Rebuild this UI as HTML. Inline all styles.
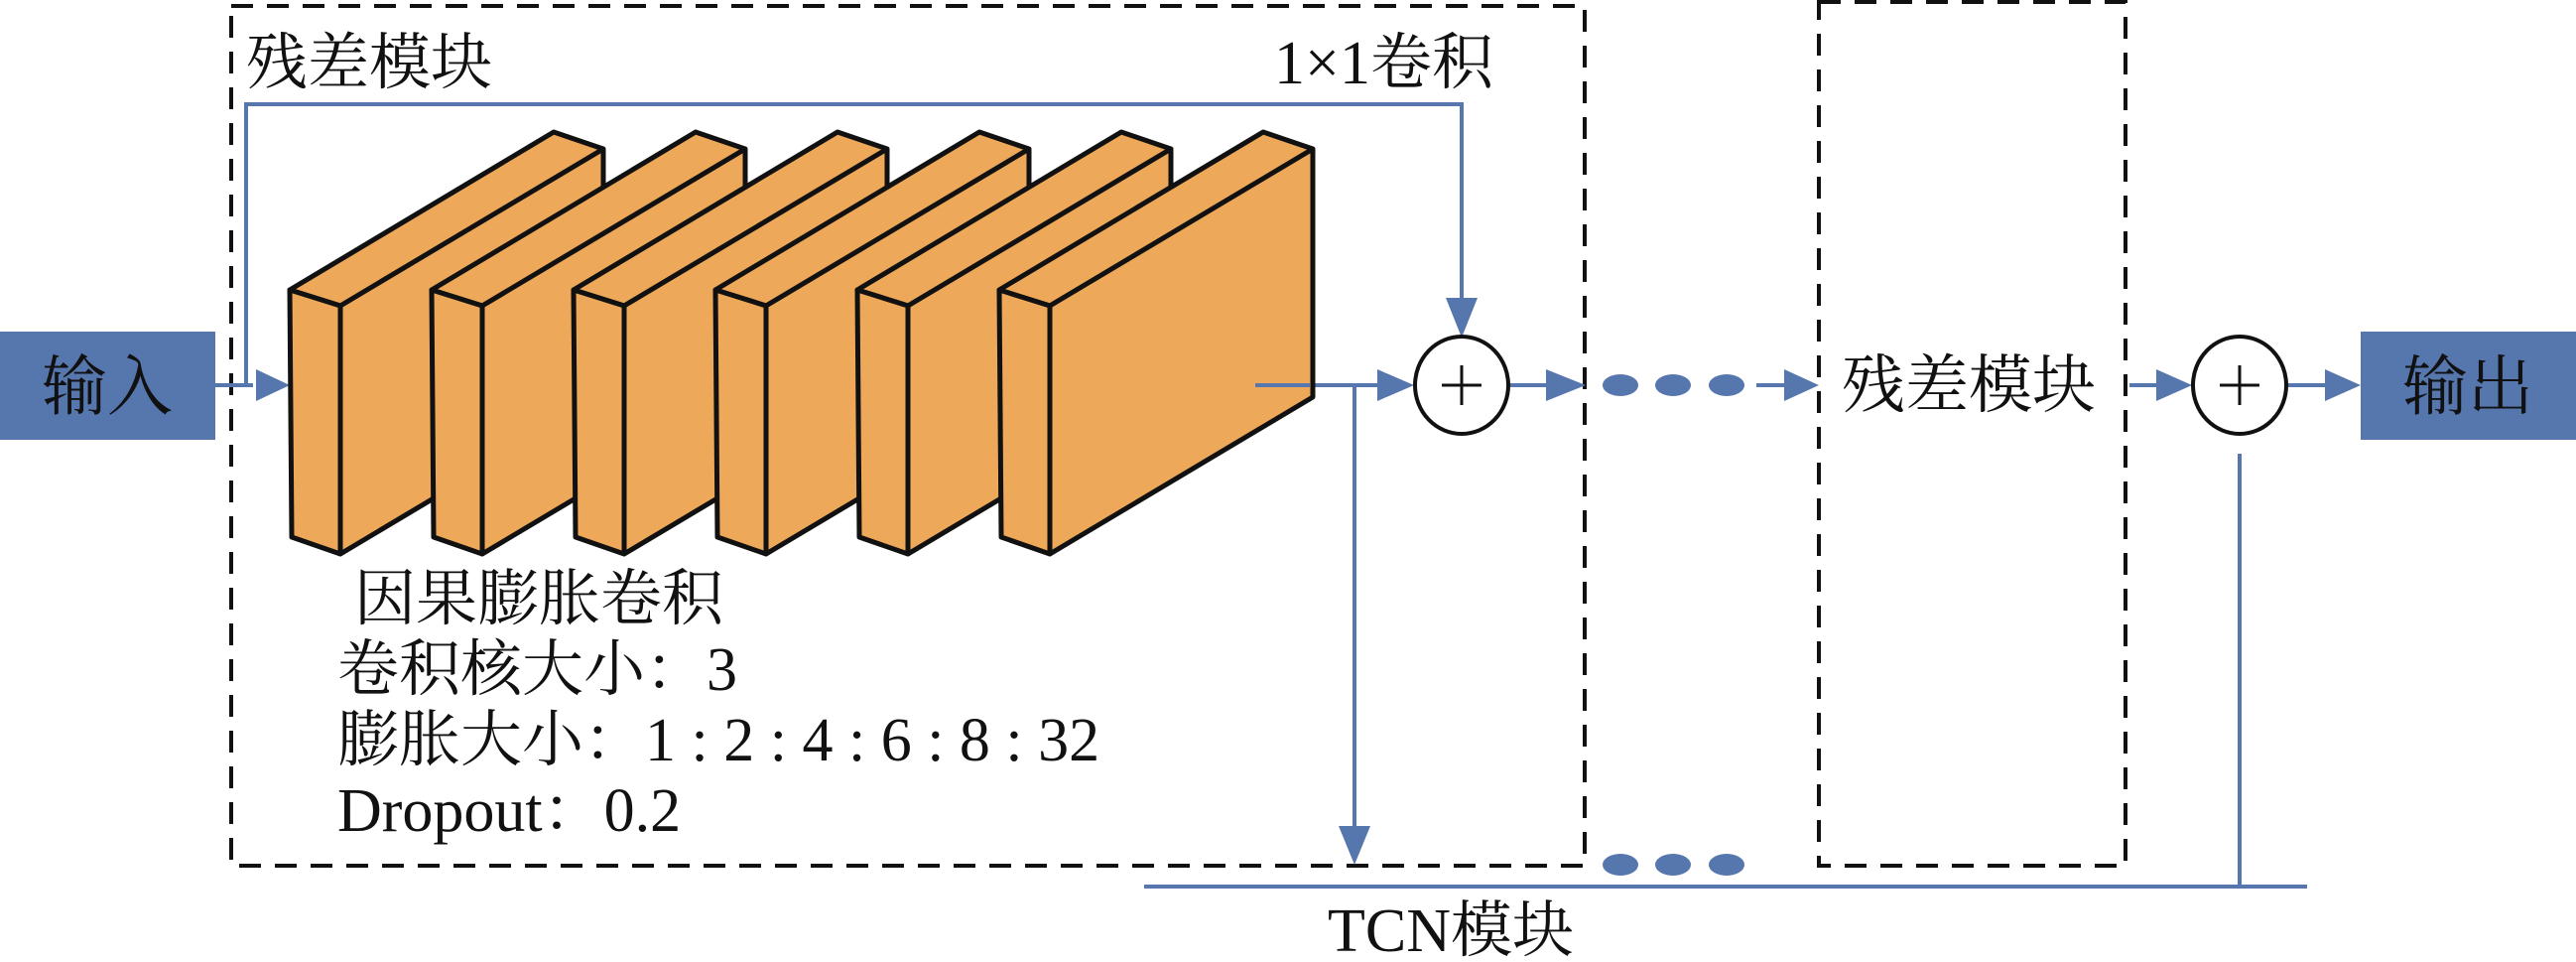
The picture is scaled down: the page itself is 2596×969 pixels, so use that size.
<!DOCTYPE html>
<html><head><meta charset="utf-8"><style>
html,body{margin:0;padding:0;background:#fff;width:2596px;height:969px;overflow:hidden}
text{font-family:"Liberation Serif","Noto Serif CJK SC",serif;fill:#111}
.l{font-family:"Liberation Serif",serif}
</style></head><body>
<svg width="2596" height="969" viewBox="0 0 2596 969" xmlns="http://www.w3.org/2000/svg">
<!-- dashed boxes -->
<rect x="233" y="6" width="1364" height="866" fill="none" stroke="#111" stroke-width="4" stroke-dasharray="22,14"/>
<rect x="1833" y="2" width="309" height="870" fill="none" stroke="#111" stroke-width="4" stroke-dasharray="22,14"/>

<!-- input / output boxes -->
<rect x="0" y="334" width="217" height="109" fill="#5676AE"/>
<text x="108" y="412" font-size="66" text-anchor="middle">输入</text>
<rect x="2379" y="334" width="217" height="109" fill="#5676AE"/>
<text x="2487" y="412" font-size="66" text-anchor="middle">输出</text>

<!-- blue lines -->
<g stroke="#5676AE" stroke-width="4" fill="none">
<polyline points="217,388 255,388"/>
<polyline points="248,388 248,105 1473,105 1473,300"/>
<line x1="1265" y1="388" x2="1390" y2="388"/>
<line x1="1365" y1="388" x2="1365" y2="835"/>
<line x1="1521" y1="388" x2="1560" y2="388"/>
<line x1="1770" y1="388" x2="1800" y2="388"/>
<line x1="2146" y1="388" x2="2175" y2="388"/>
<line x1="2305" y1="388" x2="2345" y2="388"/>
<line x1="1153" y1="893" x2="2325" y2="893"/>
<line x1="2257" y1="457" x2="2257" y2="893"/>
</g>
<g fill="#5676AE">
<polygon points="258,372 292,388 258,404"/>
<polygon points="1388,372 1425,388 1388,404"/>
<polygon points="1457,300 1473,340 1489,300"/>
<polygon points="1558,372 1598,388 1558,404"/>
<polygon points="1798,372 1833,388 1798,404"/>
<polygon points="2173,372 2209,388 2173,404"/>
<polygon points="2343,372 2379,388 2343,404"/>
<polygon points="1349,832 1365,871 1381,832"/>
<ellipse cx="1633" cy="388" rx="18" ry="11"/>
<ellipse cx="1686" cy="388" rx="18" ry="11"/>
<ellipse cx="1740" cy="388" rx="18" ry="11"/>
<ellipse cx="1633" cy="871" rx="18" ry="11"/>
<ellipse cx="1686" cy="871" rx="18" ry="11"/>
<ellipse cx="1740" cy="871" rx="18" ry="11"/>
</g>

<!-- blocks -->
<g stroke="#111" stroke-width="5" stroke-linejoin="round" fill="#EEA85A">
<g><polygon points="292,292 558,133 608,150 608,400 343,558 343,308"/><polygon points="292,292 343,308 343,558 294,541"/><polyline points="343,308 608,150" fill="none"/></g>
<g transform="translate(143,0)"><polygon points="292,292 558,133 608,150 608,400 343,558 343,308"/><polygon points="292,292 343,308 343,558 294,541"/><polyline points="343,308 608,150" fill="none"/></g>
<g transform="translate(286,0)"><polygon points="292,292 558,133 608,150 608,400 343,558 343,308"/><polygon points="292,292 343,308 343,558 294,541"/><polyline points="343,308 608,150" fill="none"/></g>
<g transform="translate(429,0)"><polygon points="292,292 558,133 608,150 608,400 343,558 343,308"/><polygon points="292,292 343,308 343,558 294,541"/><polyline points="343,308 608,150" fill="none"/></g>
<g transform="translate(572,0)"><polygon points="292,292 558,133 608,150 608,400 343,558 343,308"/><polygon points="292,292 343,308 343,558 294,541"/><polyline points="343,308 608,150" fill="none"/></g>
<g transform="translate(715,0)"><polygon points="292,292 558,133 608,150 608,400 343,558 343,308"/><polygon points="292,292 343,308 343,558 294,541"/><polyline points="343,308 608,150" fill="none"/></g>
</g>
<line x1="1265" y1="388" x2="1320" y2="388" stroke="#5676AE" stroke-width="4"/>

<!-- circles -->
<g stroke="#111" stroke-width="4" fill="#fff">
<ellipse cx="1473" cy="388" rx="47" ry="49"/>
<ellipse cx="2257" cy="388" rx="47" ry="49"/>
</g>
<g stroke="#111" stroke-width="3">
<line x1="1473" y1="368" x2="1473" y2="408"/><line x1="1453" y1="388" x2="1493" y2="388"/>
<line x1="2257" y1="368" x2="2257" y2="408"/><line x1="2237" y1="388" x2="2277" y2="388"/>
</g>

<!-- labels -->
<text x="248" y="84" font-size="62">残差模块</text>
<text x="1284" y="84" font-size="62"><tspan class="l">1×1</tspan>卷积</text>
<text x="1856" y="410" font-size="64">残差模块</text>
<text x="357" y="624" font-size="62">因果膨胀卷积</text>
<text x="340" y="695" font-size="62">卷积核大小：<tspan class="l">3</tspan></text>
<text x="340" y="766" font-size="62">膨胀大小：<tspan class="l">1 : 2 : 4 : 6 : 8 : 32</tspan></text>
<text x="340" y="837" font-size="62"><tspan class="l">Dropout</tspan>：<tspan class="l">0.2</tspan></text>
<text x="1338" y="958" font-size="62"><tspan class="l">TCN</tspan>模块</text>
</svg>
</body></html>
